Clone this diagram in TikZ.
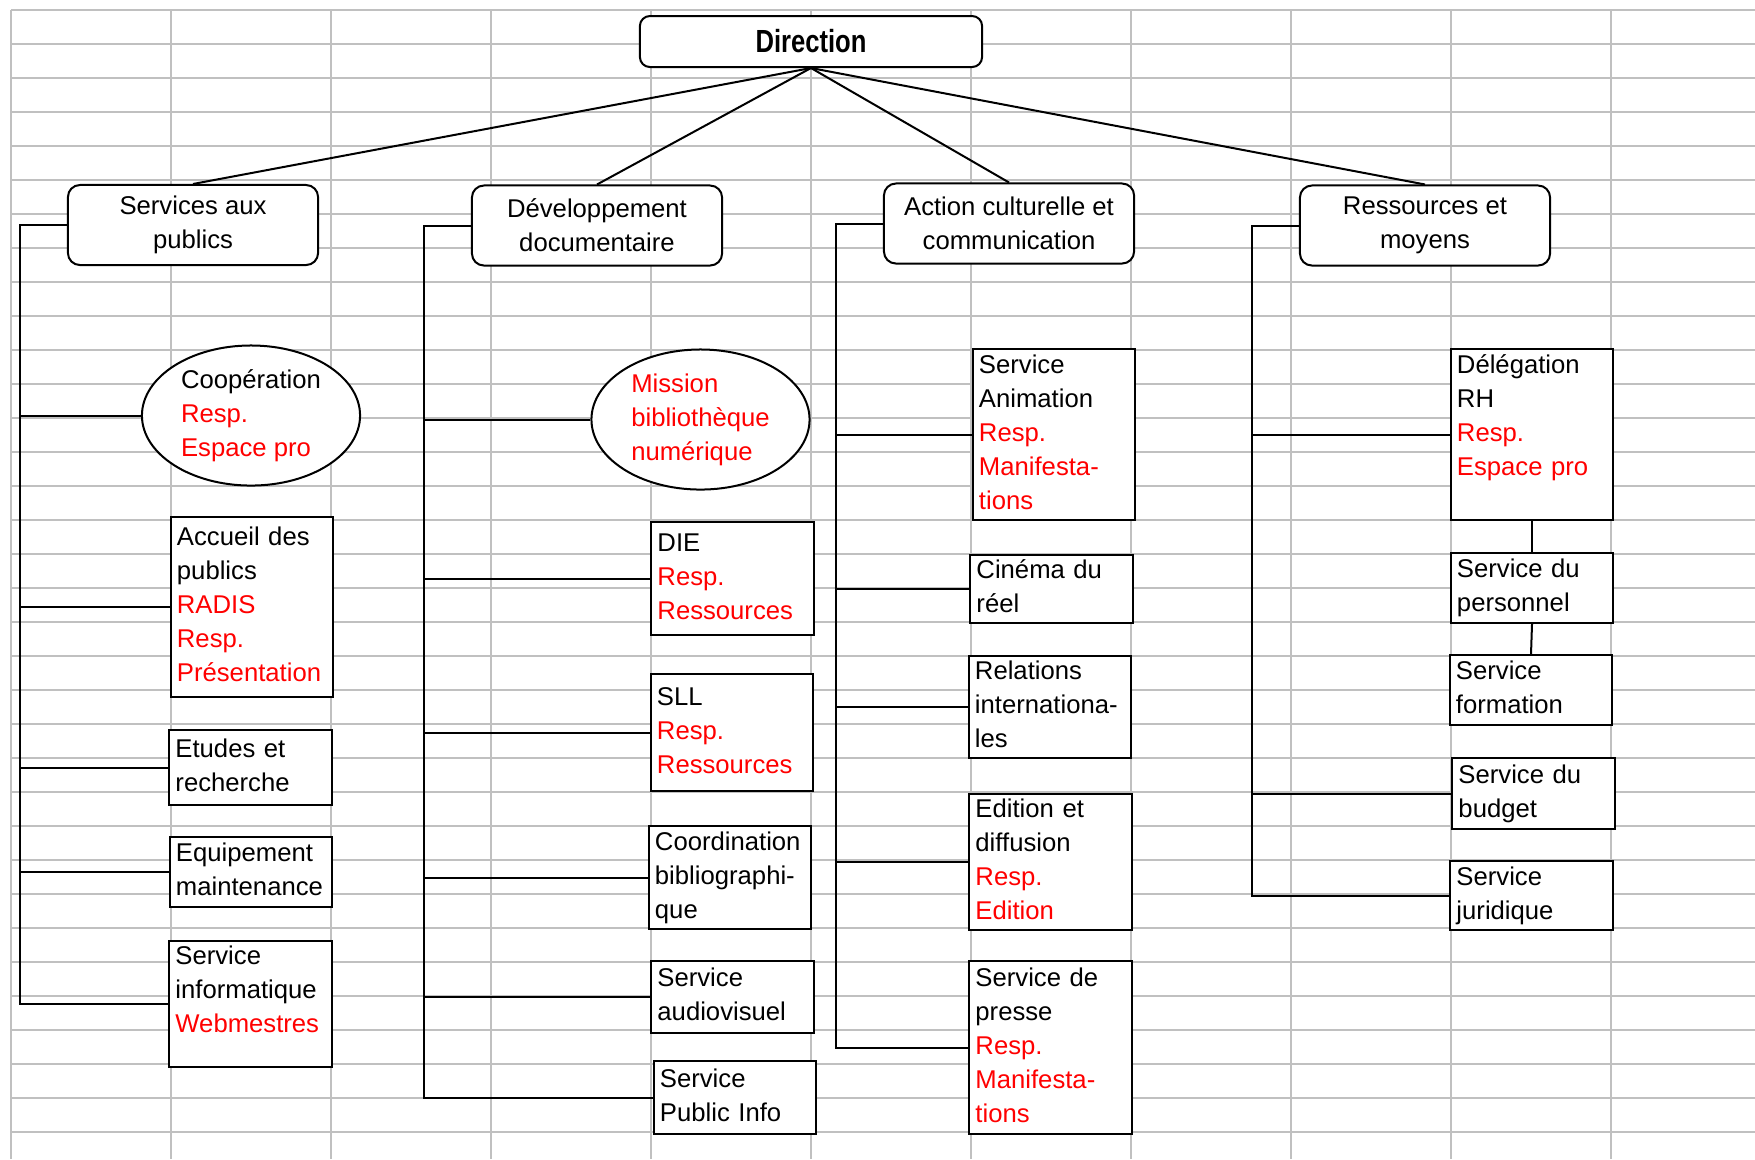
\documentclass[tikz,border=0pt]{standalone}
\usepackage{fontspec}
\setmainfont{Liberation Sans}
\newfontfamily\dirfont{Liberation Sans}[FakeStretch=0.8]
\usetikzlibrary{shapes.geometric}
\definecolor{resp}{RGB}{255,0,0}
\definecolor{gridgray}{RGB}{192,192,192}
\newcommand{\rsp}[1]{\textcolor{resp}{#1}}

\begin{document}
\begin{tikzpicture}[x=0.01cm, y=-0.01cm, line width=0.02cm, font=\fontsize{7.3}{9.68}\selectfont]
    \tikzstyle{cellline}=[draw=gridgray, line width=0.027cm]
    \tikzstyle{head}=[draw, rounded corners=0.1cm, fill=white, minimum width=3.42cm, minimum height=0.51cm, font=\dirfont\bfseries\fontsize{9.1}{11}\selectfont]
    \tikzstyle{pole}=[draw, rounded corners=0.12cm, fill=white, minimum width=2.5cm, minimum height=0.8cm, align=center, inner sep=0pt]
    \tikzstyle{mission}=[draw, ellipse, fill=white, align=left, inner sep=0pt, minimum width=2.18cm, minimum height=1.4cm]
    \tikzstyle{service}=[draw, rectangle, fill=white, text width=1.5cm, align=left, inner xsep=0.06cm, inner ysep=0pt, execute at begin node=\strut, execute at end node=\strut]

    % Spreadsheet grid behind the chart
    \useasboundingbox (0,0) rectangle (1755,1159);
    \foreach \gx in {11,171,...,1611}
        \draw[cellline] (\gx,10) -- (\gx,1159);
    \foreach \gy in {10,44,...,1132}
        \draw[cellline] (11,\gy) -- (1755,\gy);

    % Direction and the four departments
    \node[head] (dir) at (811,41.5) {Direction};
    \node[pole] (sap) at (193,225) {Services aux\\publics};
    \node[pole] (dev) at (597,225.5) {Développement\\documentaire};
    \node[pole] (act) at (1009,223.5) {Action culturelle et\\communication};
    \node[pole] (res) at (1425,225.5) {Ressources et\\moyens};

    % Services aux publics
    \node[mission] (coop) at (251,415.5) {Coopération\\\rsp{Resp.}\\\rsp{Espace pro}};
    \node[service, minimum height=1.8cm] (accueil) at (252,607) {Accueil des\\publics\\\rsp{RADIS}\\\rsp{Resp.}\\\rsp{Présentation}};
    \node[service, minimum height=0.75cm] (etudes) at (250.5,767.5) {Etudes et\\recherche};
    \node[service, minimum height=0.7cm] (equip) at (251,872) {Equipement\\maintenance};
    \node[service, minimum height=1.26cm] (info) at (250.5,1004) {Service\\informatique\\\rsp{Webmestres}\rule[-0.34cm]{0pt}{0pt}};

    % Developpement documentaire
    \node[mission] (mbn) at (700.5,419.5) {\rsp{Mission}\\\rsp{bibliothèque}\\\rsp{numérique}};
    \node[service, minimum height=1.13cm] (die) at (732.5,578.5) {DIE\\\rsp{Resp.}\\\rsp{Ressources}};
    \node[service, minimum height=1.17cm] (sll) at (732,732.5) {SLL\\\rsp{Resp.}\\\rsp{Ressources}};
    \node[service, minimum height=1.03cm] (coord) at (730,877.5) {Coordination\\bibliographi-\\que};
    \node[service, minimum height=0.72cm] (audio) at (732.5,997) {Service\\audiovisuel};
    \node[service, minimum height=0.73cm] (spi) at (735,1097.5) {Service\\Public Info};

    % Action culturelle et communication
    \node[service, minimum height=1.71cm] (anim) at (1054,434.5) {Service\\Animation\\\rsp{Resp.}\\\rsp{Manifesta-}\\\rsp{tions}};
    \node[service, minimum height=0.68cm] (cine) at (1051.5,589) {Cinéma du\\réel};
    \node[service, minimum height=1.02cm] (relint) at (1050,707) {Relations\\internationa-\\les};
    \node[service, minimum height=1.36cm] (edit) at (1050.5,862) {Edition et\\diffusion\\\rsp{Resp.}\\\rsp{Edition}};
    \node[service, minimum height=1.73cm] (presse) at (1050.5,1047.5) {Service de\\presse\\\rsp{Resp.}\\\rsp{Manifesta-}\\\rsp{tions}};

    % Ressources et moyens
    \node[service, minimum height=1.71cm] (drh) at (1532,434.5) {Délégation\\RH\\\rsp{Resp.}\\\rsp{Espace pro}\\};
    \node[service, minimum height=0.7cm] (perso) at (1532,588) {Service du\\personnel};
    \node[service, minimum height=0.7cm] (form) at (1531,690) {Service\\formation};
    \node[service, minimum height=0.71cm] (budget) at (1533.5,793.5) {Service du\\budget};
    \node[service, minimum height=0.67cm] (jur) at (1531.5,895.5) {Service\\juridique};

    % Links from the direction
    \draw (dir.south) -- (sap.north);
    \draw (dir.south) -- (dev.north);
    \draw (dir.south) -- (act.north);
    \draw (dir.south) -- (res.north);

    % Vertical buses on the left of each column
    \coordinate (bus1) at (20,0);
    \coordinate (bus2) at (424,0);
    \coordinate (bus3) at (836,0);
    \coordinate (bus4) at (1252,0);

    \draw (sap.west) -- (sap.west -| bus1) -- (info.west -| bus1) -- (info.west);
    \foreach \n in {coop,accueil,etudes,equip}
        \draw (\n.west) -- (\n.west -| bus1);

    \draw (dev.west) -- (dev.west -| bus2) -- (spi.west -| bus2) -- (spi.west);
    \foreach \n in {mbn,die,sll,coord,audio}
        \draw (\n.west) -- (\n.west -| bus2);

    \draw (act.west) -- (act.west -| bus3) -- (presse.west -| bus3) -- (presse.west);
    \foreach \n in {anim,cine,relint,edit}
        \draw (\n.west) -- (\n.west -| bus3);

    \draw (res.west) -- (res.west -| bus4) -- (jur.west -| bus4) -- (jur.west);
    \foreach \n in {drh,budget}
        \draw (\n.west) -- (\n.west -| bus4);
    \draw (drh.south) -- (perso.north);
    \draw (perso.south) -- (form.north);
\end{tikzpicture}
\end{document}
